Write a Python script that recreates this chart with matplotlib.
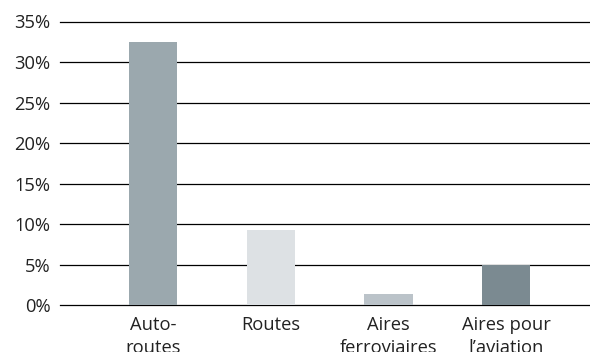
import matplotlib.pyplot as plt
import numpy as np

plt.rcParams['font.family'] = ['Open Sans', 'DejaVu Sans']

categories = ["Auto-\nroutes", "Routes", "Aires\nferroviaires", "Aires pour\nl\u2019aviation"]
values = [32.5, 9.3, 1.4, 5.0]
colors = ["#9ba8ae", "#dde1e4", "#bbc3c9", "#7b8a91"]
yticks = [0, 5, 10, 15, 20, 25, 30, 35]

fig = plt.figure(figsize=(5.9, 3.52), dpi=100)
ax = fig.add_axes([60/590, 1 - 305.3/352, 530/590, (305.3 - 21.5)/352])

x = np.arange(len(categories))
ax.bar(x, values, width=0.41, color=colors, zorder=3)

ax.set_ylim(0, 35)
ax.set_xlim(-0.788, 3.71)
ax.set_yticks(yticks)
ax.set_yticklabels([f"{t}%" for t in yticks])
ax.yaxis.grid(True, color="black", linewidth=0.9, zorder=0)
for gl in ax.get_ygridlines():
    gl.set_clip_on(False)
ax.set_xticks(x)
ax.set_xticklabels(categories, linespacing=1.3)
ax.tick_params(axis="both", length=0, labelsize=13.2, colors="#222222")
ax.tick_params(axis="y", pad=7)
ax.tick_params(axis="x", pad=8)
for s in ax.spines.values():
    s.set_visible(False)

fig.savefig("out.png", dpi=100)
